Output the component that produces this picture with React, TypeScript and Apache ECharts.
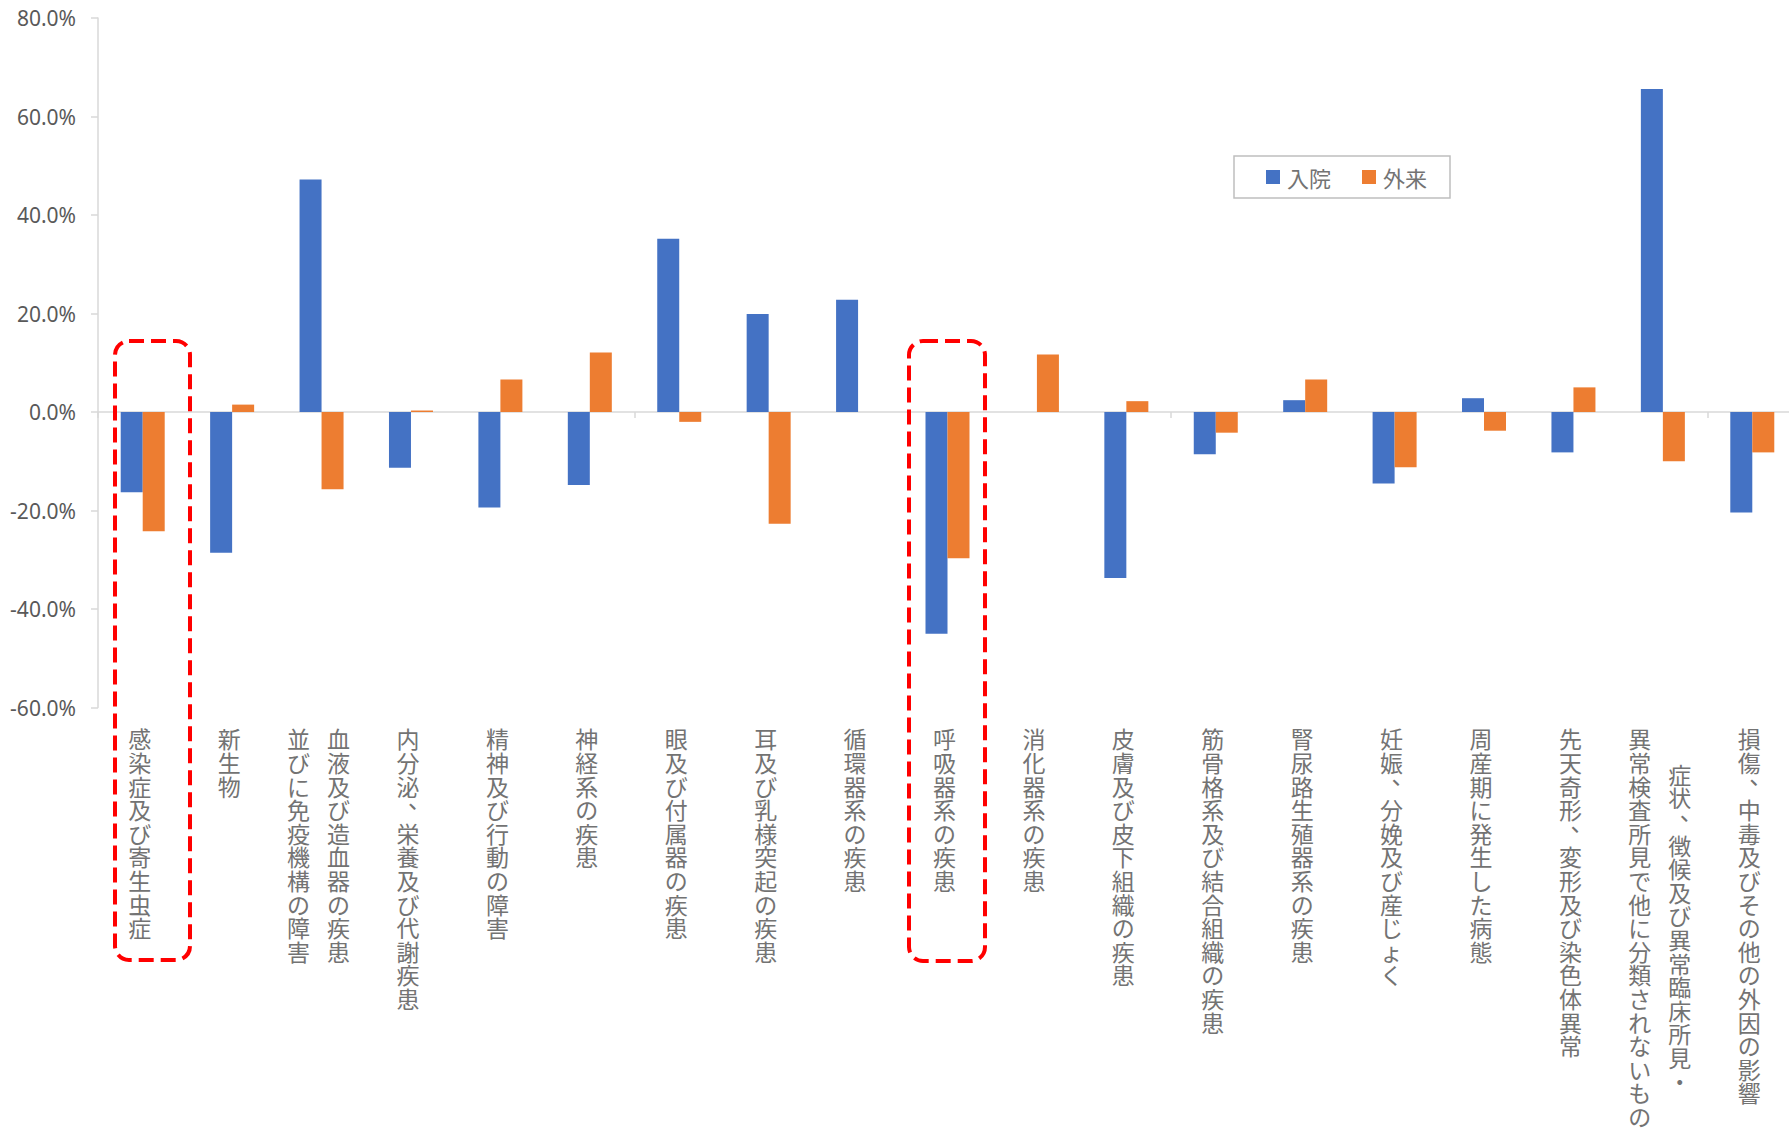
import React, { useEffect, useRef } from "react";
import * as echarts from "echarts";

// Category labels, split into the columns of the vertical label (first = right column)
const labelColumns: string[][] = [
  ["感染症及び寄生虫症"],
  ["新生物"],
  ["血液及び造血器の疾患", "並びに免疫機構の障害"],
  ["内分泌、栄養及び代謝疾患"],
  ["精神及び行動の障害"],
  ["神経系の疾患"],
  ["眼及び付属器の疾患"],
  ["耳及び乳様突起の疾患"],
  ["循環器系の疾患"],
  ["呼吸器系の疾患"],
  ["消化器系の疾患"],
  ["皮膚及び皮下組織の疾患"],
  ["筋骨格系及び結合組織の疾患"],
  ["腎尿路生殖器系の疾患"],
  ["妊娠、分娩及び産じょく"],
  ["周産期に発生した病態"],
  ["先天奇形、変形及び染色体異常"],
  ["症状、徴候及び異常臨床所見・", "異常検査所見で他に分類されないもの"],
  ["損傷、中毒及びその他の外因の影響"],
];
const categories = labelColumns.map((c) => c.join(""));

const seriesNames = ["入院", "外来"];
// values in percent
const inpatient = [-16.3, -28.6, 47.2, -11.3, -19.4, -14.8, 35.2, 19.9, 22.8, -45.0, 0, -33.7, -8.6, 2.4, -14.5, 2.8, -8.2, 65.6, -20.4];
const outpatient = [-24.2, 1.5, -15.7, 0.3, 6.6, 12.1, -2.0, -22.7, 0, -29.7, 11.7, 2.2, -4.2, 6.6, -11.2, -3.8, 5.0, -10.0, -8.2];

const yMin = -60;
const yMax = 80;
const yInterval = 20;

const BLUE = "#4472C4";
const ORANGE = "#ED7D31";
const TEXT = "#737373";
const AXIS = "#D9D9D9";
const JP = "'Noto Sans CJK JP', 'Noto Sans', sans-serif";
const LINE_H = 23.6;
const FONT_SZ = 23;
const COL_W = 63;
const HALF = FONT_SZ / 2;

export default function App() {
  const ref = useRef<HTMLDivElement>(null);

  useEffect(() => {
    if (!ref.current) return;
    const chart = echarts.init(ref.current, undefined, { renderer: "svg" });

    const font = { fontSize: FONT_SZ, color: TEXT, fontFamily: JP };
    const commaV = { height: 1, lineHeight: 1, verticalAlign: "top" };
    const rich: Record<string, any> = {
      // right column of a two-column label
      r: { width: COL_W, align: "right", lineHeight: LINE_H, ...font },
      // right column when the block is widened by a comma
      rp: { width: COL_W, align: "right", padding: [0, HALF, 0, 0], lineHeight: LINE_H, ...font },
      // left column
      l: { width: COL_W, align: "left", lineHeight: LINE_H, ...font },
      // vertical-writing commas: drawn in the upper right of their cell
      c: { width: FONT_SZ * 2, align: "right", ...commaV, ...font },
      rc: { width: COL_W + FONT_SZ, align: "right", ...commaV, ...font },
      lc: { width: FONT_SZ, align: "left", padding: [0, 0, 0, HALF], ...commaV, ...font },
      z: { width: 0, lineHeight: LINE_H, fontSize: 2, color: "rgba(0,0,0,0)" },
    };

    const colA: string[] = [];
    const colB: string[] = [];
    labelColumns.forEach((cols, idx) => {
      if (cols.length === 1) {
        colA.push(
          Array.from(cols[0])
            .map((ch) => (ch === "、" ? `{z|　}{c|${ch}}` : ch))
            .join("\n")
        );
        colB.push("");
      } else {
        const a = Array.from(cols[0]);
        const b = Array.from(cols[1]);
        const aHasComma = a.includes("、");
        const maxLen = Math.max(a.length, b.length);
        const offA = ((maxLen - a.length) / 2) * LINE_H;
        const offB = ((maxLen - b.length) / 2) * LINE_H;
        const rKey = aHasComma ? "rp" : "r";
        let sA = a.map((ch) => (ch === "、" ? `{z|　}{rc|${ch}}` : `{${rKey}|${ch}}`)).join("\n");
        let sB = b.map((ch) => (ch === "、" ? `{z|　}{lc|${ch}}` : `{l|${ch}}`)).join("\n");
        if (offA > 0) {
          rich[`spa${idx}`] = { width: COL_W, lineHeight: offA, fontSize: 2, color: "rgba(0,0,0,0)" };
          sA = `{spa${idx}|　}\n` + sA;
        }
        if (offB > 0) {
          rich[`spb${idx}`] = { width: COL_W, lineHeight: offB, fontSize: 2, color: "rgba(0,0,0,0)" };
          sB = `{spb${idx}|　}\n` + sB;
        }
        colA.push(sA);
        colB.push(sB);
      }
    });

    const labelAxis = (texts: string[]) => ({
      type: "category",
      data: categories,
      position: "bottom",
      axisLine: { show: false, onZero: false },
      axisTick: { show: false },
      splitLine: { show: false },
      axisLabel: {
        show: true,
        interval: 0,
        margin: 19,
        color: TEXT,
        fontSize: FONT_SZ,
        lineHeight: LINE_H,
        fontFamily: JP,
        padding: [0, 6, 0, 0],
        formatter: (_v: string, i: number) => texts[i],
        rich,
      },
    });

    chart.setOption({
      animation: false,
      backgroundColor: "#ffffff",
      grid: { left: 98, right: 0, top: 18, bottom: 421.5, containLabel: false },
      legend: {
        data: seriesNames,
        left: 1234,
        top: 156,
        orient: "horizontal",
        icon: "rect",
        itemWidth: 14,
        itemHeight: 14,
        itemGap: 31,
        padding: [10, 23, 10, 32],
        borderColor: "#BFBFBF",
        borderWidth: 1.5,
        textStyle: { fontSize: 22, color: TEXT, fontFamily: JP, padding: [0, 0, 0, 2] },
      },
      xAxis: [
        {
          type: "category",
          data: categories,
          position: "bottom",
          axisLine: { show: true, onZero: true, lineStyle: { color: AXIS, width: 1.5 } },
          axisTick: { show: true, length: 6, alignWithLabel: false, lineStyle: { color: AXIS, width: 1.5 } },
          axisLabel: { show: false },
          splitLine: { show: false },
        },
        labelAxis(colA),
        labelAxis(colB),
      ],
      yAxis: {
        type: "value",
        min: yMin,
        max: yMax,
        interval: yInterval,
        axisLine: { show: true, lineStyle: { color: AXIS, width: 1.5 } },
        axisTick: { show: true, length: 7, lineStyle: { color: AXIS, width: 1.5 } },
        splitLine: { show: false },
        axisLabel: {
          margin: 22,
          color: "#595959",
          fontSize: 21,
          fontFamily: "'Noto Sans', sans-serif",
          formatter: (v: number) => `${v.toFixed(1)}%`,
        },
      },
      series: [
        {
          name: seriesNames[0],
          type: "bar",
          data: inpatient,
          barWidth: 22,
          barGap: "0%",
          itemStyle: { color: BLUE },
        },
        {
          name: seriesNames[1],
          type: "bar",
          data: outpatient,
          barWidth: 22,
          barGap: "0%",
          itemStyle: { color: ORANGE },
        },
      ],
      graphic: [
        {
          type: "rect",
          z: 100,
          shape: { x: 115, y: 341, width: 75, height: 619, r: 14 },
          style: { fill: "none", stroke: "#FF0000", lineWidth: 4, lineDash: [15, 7] },
        },
        {
          type: "rect",
          z: 100,
          shape: { x: 909, y: 341, width: 76, height: 620, r: 14 },
          style: { fill: "none", stroke: "#FF0000", lineWidth: 4, lineDash: [15, 7] },
        },
      ],
    });

    return () => chart.dispose();
  }, []);

  return (
    <div
      style={{ position: "absolute", left: 0, top: 0, width: 1789, height: 1129, overflow: "hidden", background: "#fff" }}
    >
      <div ref={ref} style={{ width: 1797, height: 1129 }} />
    </div>
  );
}
